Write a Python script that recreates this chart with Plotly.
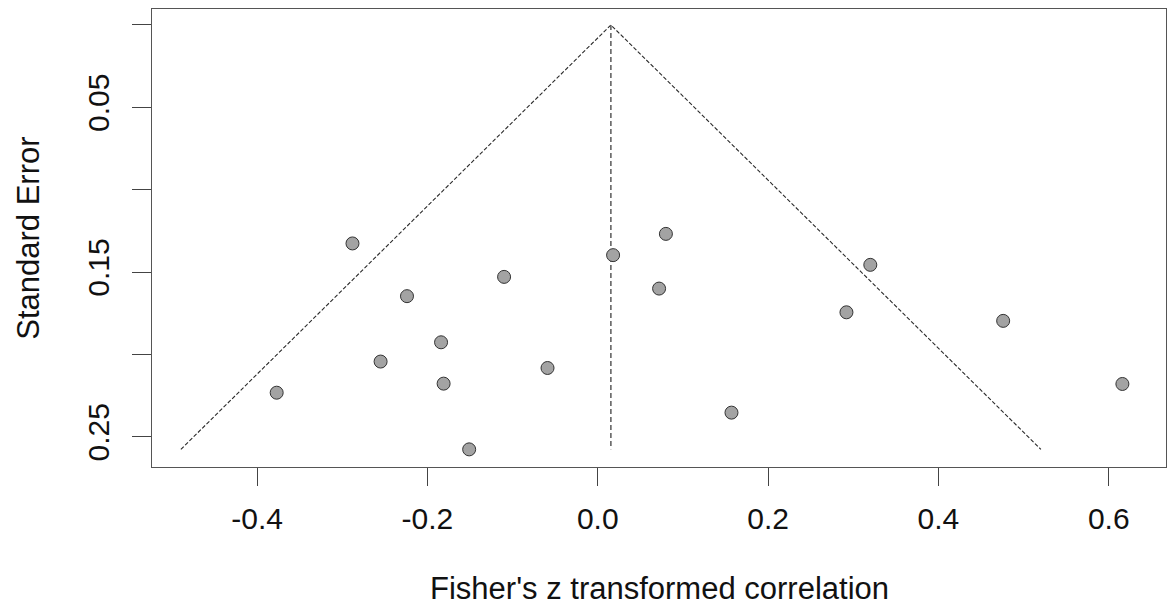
import plotly.graph_objects as go

# Study effects (Fisher's z) and their standard errors
effect = [-0.288, -0.224, -0.110, -0.184, -0.255, -0.181, -0.059, -0.377, -0.151,
          0.018, 0.080, 0.072, 0.157, 0.320, 0.292, 0.476, 0.616]
std_err = [0.1326, 0.1646, 0.1529, 0.1926, 0.2043, 0.2177, 0.2082, 0.2232, 0.2576,
           0.1397, 0.1268, 0.1600, 0.2353, 0.1456, 0.1744, 0.1796, 0.2179]

pooled_estimate = 0.0154
z_crit = 1.96
se_max = max(std_err)

x_tick_vals = [-0.4, -0.2, 0.0, 0.2, 0.4, 0.6]
x_tick_text = ["-0.4", "-0.2", "0.0", "0.2", "0.4", "0.6"]
y_tick_vals = [0.0, 0.05, 0.10, 0.15, 0.20, 0.25]
y_tick_text = ["", "0.05", "", "0.15", "", "0.25"]

FONT = "Arial, Liberation Sans, sans-serif"

fig = go.Figure()

# funnel (pseudo confidence region)
fig.add_trace(go.Scatter(
    x=[pooled_estimate - z_crit * se_max, pooled_estimate, pooled_estimate + z_crit * se_max],
    y=[se_max, 0.0, se_max],
    mode="lines",
    line=dict(color="#2a2a2a", width=1.1, dash="4px,2px"),
    hoverinfo="skip", showlegend=False))

# vertical line at the pooled estimate
fig.add_trace(go.Scatter(
    x=[pooled_estimate, pooled_estimate],
    y=[0.0, se_max],
    mode="lines",
    line=dict(color="#5a5a5a", width=1.5, dash="5px,3px"),
    hoverinfo="skip", showlegend=False))

# study points
fig.add_trace(go.Scatter(
    x=effect, y=std_err, mode="markers",
    marker=dict(size=13, color="#a3a3a3", line=dict(color="#333333", width=1)),
    showlegend=False))

fig.update_layout(
    width=1168, height=609,
    margin=dict(l=152, r=2, t=9, b=142),
    paper_bgcolor="white", plot_bgcolor="white",
    font=dict(family=FONT, size=30, color="#111111"),
    xaxis=dict(
        range=[-0.5234, 0.6672],
        tickvals=x_tick_vals, ticktext=x_tick_text,
        ticks="outside", ticklen=18, tickwidth=1.3, tickcolor="#444444",
        ticklabelstandoff=7,
        showgrid=False, zeroline=False,
        showline=True, mirror=True, linecolor="#555555", linewidth=1.3,
        tickfont=dict(size=30, family=FONT, color="#111111"),
    ),
    yaxis=dict(
        range=[0.2683, -0.0097],
        tickvals=y_tick_vals, ticktext=y_tick_text,
        ticks="outside", ticklen=19, tickwidth=1.3, tickcolor="#444444",
        tickangle=-90, ticklabelstandoff=11,
        showgrid=False, zeroline=False,
        showline=True, mirror=True, linecolor="#555555", linewidth=1.3,
        tickfont=dict(size=30, family=FONT, color="#111111"),
    ),
    annotations=[
        dict(text="Fisher's z transformed correlation", xref="paper", yref="paper",
             x=0.5, y=-0.265, xanchor="center", yanchor="middle", showarrow=False,
             font=dict(size=31, family=FONT, color="#111111")),
        dict(text="Standard Error", xref="paper", yref="paper",
             x=-0.1225, y=0.5, xanchor="center", yanchor="middle", textangle=-90,
             showarrow=False, font=dict(size=31, family=FONT, color="#111111")),
    ],
)

fig.write_html("out.html")
